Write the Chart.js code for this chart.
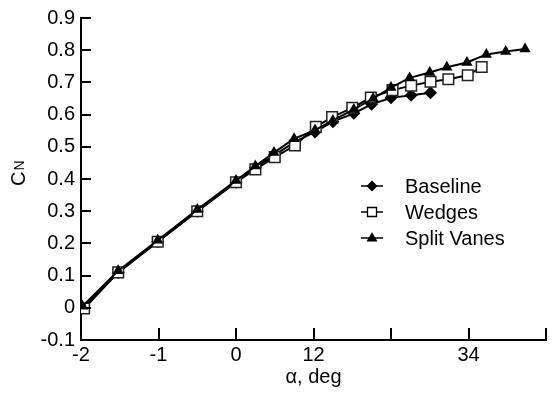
<!DOCTYPE html>
<html>
<head>
<meta charset="utf-8">
<script src="https://cdn.jsdelivr.net/npm/chart.js@4.4.1/dist/chart.umd.min.js"></script>
<style>
  html, body { margin: 0; padding: 0; background: #fff; }
  #wrap { width: 555px; height: 393px; }
</style>
</head>
<body>
<div id="wrap"><canvas id="c" width="555" height="393"></canvas></div>
<script>
// Normal-force coefficient against angle of attack for three configurations
const alphaBaseline = [-19.8, -15.2, -10.1, -5.0, 0.0, 2.5, 5.0, 7.6, 10.2, 12.5, 15.2, 17.5, 20.0, 22.6, 25.1];
const cnBaseline    = [0.0, 0.11, 0.205, 0.30, 0.39, 0.435, 0.475, 0.515, 0.546, 0.578, 0.604, 0.632, 0.652, 0.660, 0.668];

const alphaWedges = [-19.6, -15.2, -10.1, -5.0, 0.0, 2.5, 5.0, 7.6, 10.3, 12.4, 15.0, 17.4, 20.2, 22.6, 25.1, 27.4, 29.9, 31.7];
const cnWedges    = [-0.002, 0.11, 0.205, 0.30, 0.39, 0.43, 0.468, 0.504, 0.562, 0.592, 0.621, 0.653, 0.676, 0.690, 0.702, 0.710, 0.722, 0.748];

const alphaVanes = [-19.8, -15.2, -10.1, -5.0, 0.0, 2.5, 4.9, 7.5, 10.2, 12.5, 15.2, 17.7, 20.0, 22.4, 25.0, 27.2, 29.8, 32.3, 34.8, 37.3];
const cnVanes    = [0.005, 0.115, 0.21, 0.305, 0.395, 0.44, 0.482, 0.525, 0.552, 0.582, 0.616, 0.650, 0.684, 0.714, 0.731, 0.747, 0.762, 0.787, 0.796, 0.804];

const seriesNames = ['Baseline', 'Wedges', 'Split Vanes'];
const xTickValues = [-20, -10, 0, 10, 20, 30, 40];
const xTickLabels = ['-2', '-1', '0', '12', '', '34', ''];
const yTickValues = [-0.1, 0, 0.1, 0.2, 0.3, 0.4, 0.5, 0.6, 0.7, 0.8, 0.9];

const FONT = '"Liberation Sans", Arial, Helvetica, sans-serif';
const FONT_SIZE = 20;
const INK = '#000';

function pairs(xs, ys) { return xs.map((x, i) => ({ x: x, y: ys[i] })); }

// inward tick marks on both axes
const innerTicks = {
  id: 'innerTicks',
  afterDraw(chart) {
    const ctx = chart.ctx;
    const xs = chart.scales.x, ys = chart.scales.y;
    const area = chart.chartArea;
    ctx.save();
    ctx.strokeStyle = INK;
    ctx.lineWidth = 2;
    ctx.beginPath();
    xTickValues.forEach(v => {
      const px = Math.round(xs.getPixelForValue(v));
      ctx.moveTo(px, area.bottom);
      ctx.lineTo(px, area.bottom - 12);
    });
    yTickValues.forEach(v => {
      const py = Math.round(ys.getPixelForValue(v));
      ctx.moveTo(area.left, py);
      ctx.lineTo(area.left + 10, py);
    });
    ctx.stroke();
    ctx.restore();
  }
};

// rotated C_N axis title with subscript
const yTitle = {
  id: 'yTitle',
  afterDraw(chart) {
    const ctx = chart.ctx;
    ctx.save();
    ctx.translate(25, 186);
    ctx.rotate(-Math.PI / 2);
    ctx.fillStyle = INK;
    ctx.textBaseline = 'alphabetic';
    ctx.textAlign = 'left';
    ctx.font = FONT_SIZE + 'px ' + FONT;
    ctx.fillText('C', 0, 0);
    const wC = ctx.measureText('C').width;
    ctx.font = '14px ' + FONT;
    ctx.fillText('N', wC + 1, -1.5);
    ctx.restore();
  }
};

function drawMarker(ctx, style, x, y, r) {
  ctx.beginPath();
  if (style === 'rectRot') {
    ctx.moveTo(x - r, y); ctx.lineTo(x, y - r); ctx.lineTo(x + r, y); ctx.lineTo(x, y + r);
    ctx.closePath();
    ctx.fillStyle = INK; ctx.fill();
  } else if (style === 'rect') {
    ctx.rect(x - r, y - r, 2 * r, 2 * r);
    ctx.fillStyle = '#fff'; ctx.fill();
    ctx.lineWidth = 1.3; ctx.strokeStyle = INK; ctx.stroke();
  } else {
    const h = r * 1.7;
    ctx.moveTo(x, y - h * 0.62); ctx.lineTo(x + r, y + h * 0.38); ctx.lineTo(x - r, y + h * 0.38);
    ctx.closePath();
    ctx.fillStyle = INK; ctx.fill();
  }
}

// legend with a line segment through each marker
const lineLegend = {
  id: 'lineLegend',
  afterDraw(chart) {
    const ctx = chart.ctx;
    const rows = [186, 212, 238];
    const styles = ['rectRot', 'rect', 'triangle'];
    const sizes = [5.5, 4.5, 5.5];
    ctx.save();
    chart.data.datasets.forEach((ds, i) => {
      const y = rows[i];
      ctx.strokeStyle = INK;
      ctx.lineWidth = 1.5;
      ctx.beginPath();
      ctx.moveTo(361, y); ctx.lineTo(383, y);
      ctx.stroke();
      drawMarker(ctx, styles[i], 372, y, sizes[i]);
      ctx.fillStyle = INK;
      ctx.font = FONT_SIZE + 'px ' + FONT;
      ctx.textBaseline = 'middle';
      ctx.textAlign = 'left';
      ctx.fillText(ds.label, 405, y + 1);
    });
    ctx.restore();
  }
};

new Chart(document.getElementById('c'), {
  type: 'line',
  data: {
    datasets: [
      {
        label: seriesNames[0],
        data: pairs(alphaBaseline, cnBaseline),
        borderColor: INK, borderWidth: 2,
        pointStyle: 'rectRot', pointRadius: 6.5,
        pointBackgroundColor: INK, pointBorderColor: INK, pointBorderWidth: 0,
        tension: 0, order: 3
      },
      {
        label: seriesNames[1],
        data: pairs(alphaWedges, cnWedges),
        borderColor: INK, borderWidth: 2,
        pointStyle: 'rect', pointRadius: 7.5,
        pointBackgroundColor: '#fff', pointBorderColor: '#222', pointBorderWidth: 1.5,
        tension: 0, order: 2
      },
      {
        label: seriesNames[2],
        data: pairs(alphaVanes, cnVanes),
        borderColor: INK, borderWidth: 2,
        pointStyle: 'triangle', pointRadius: 6.5,
        pointBackgroundColor: INK, pointBorderColor: INK, pointBorderWidth: 0,
        tension: 0, order: 1
      }
    ]
  },
  options: {
    responsive: false,
    animation: false,
    devicePixelRatio: 1,
    layout: { padding: { top: 16, right: 6, left: 0, bottom: 0 } },
    plugins: { legend: { display: false }, tooltip: { enabled: false } },
    elements: { line: { fill: false } },
    scales: {
      x: {
        type: 'linear',
        min: -20, max: 40,
        afterFit(scale) { scale.height = 53; },
        afterBuildTicks(scale) { scale.ticks = xTickValues.map(v => ({ value: v })); },
        grid: { display: true, drawOnChartArea: false, drawTicks: false },
        border: { display: true, color: INK, width: 2 },
        ticks: {
          padding: 3,
          color: INK,
          maxRotation: 0,
          autoSkip: false,
          font: { family: FONT, size: FONT_SIZE },
          callback(value) {
            const i = xTickValues.indexOf(value);
            return i >= 0 ? xTickLabels[i] : '';
          }
        },
        title: {
          display: true,
          text: 'α, deg',
          color: INK,
          font: { family: FONT, size: FONT_SIZE },
          padding: { top: 0, bottom: 4 }
        }
      },
      y: {
        type: 'linear',
        min: -0.1, max: 0.9,
        afterFit(scale) { scale.width = 81; },
        afterBuildTicks(scale) { scale.ticks = yTickValues.map(v => ({ value: v })); },
        grid: { display: true, drawOnChartArea: false, drawTicks: false },
        border: { display: true, color: INK, width: 2 },
        ticks: {
          padding: 6,
          color: INK,
          autoSkip: false,
          font: { family: FONT, size: FONT_SIZE },
          callback(value) {
            const v = Math.round(value * 10) / 10;
            return v === 0 ? '0' : v.toFixed(1);
          }
        }
      }
    }
  },
  plugins: [innerTicks, yTitle, lineLegend]
});
</script>
</body>
</html>
